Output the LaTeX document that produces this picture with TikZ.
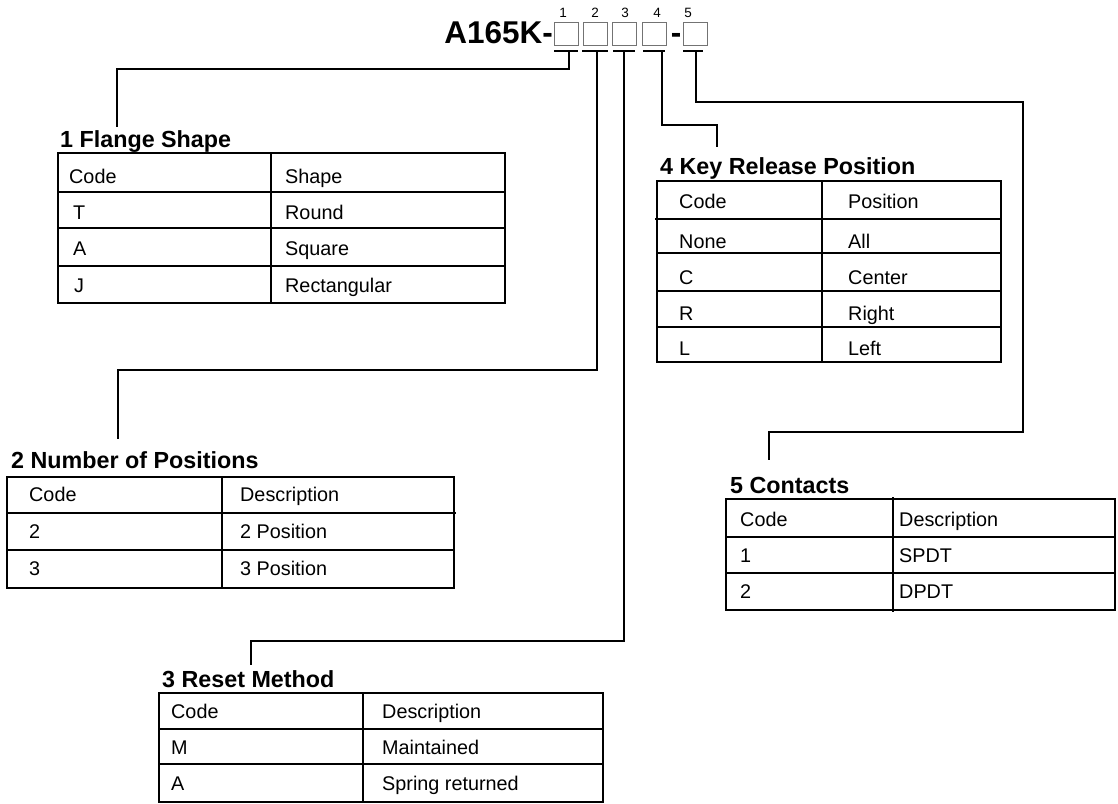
\documentclass[tikz,border=0pt]{standalone}
\usepackage{fontspec}
\setmainfont{Liberation Sans}
\begin{document}
\begin{tikzpicture}[x=1pt,y=-1pt,
  conn/.style={line width=2pt,line join=miter},
  tbl/.style={line width=2.3pt},
  tline/.style={line width=1.9pt},
  uline/.style={line width=1.6pt},
  cell/.style={anchor=base west,inner sep=0pt,font=\fontsize{19.8}{23}\selectfont},
  ttl/.style={anchor=base west,inner sep=0pt,font=\bfseries\fontsize{23.3}{27}\selectfont},
  codebox/.style={draw=black!55,line width=1pt,minimum width=24pt,minimum height=23pt,inner sep=0pt},
  num/.style={inner sep=0pt,font=\fontsize{13.5}{15}\selectfont}]
\useasboundingbox (0,0) rectangle (1118,803);
\fill[white] (0,0) rectangle (1118,803);

% model code
\node[anchor=base east,inner sep=0pt,font=\bfseries\fontsize{31.5}{36}\selectfont] (model) at (553,43) {A165K-};
\node[codebox] (b1) at (566.5,33.5) {};
\node[codebox] (b2) at (595,33.5) {};
\node[codebox] (b3) at (624.5,33.5) {};
\node[codebox] (b4) at (654.5,33.5) {};
\node[anchor=base,inner sep=0pt,font=\bfseries\fontsize{31.5}{36}\selectfont] (dash) at (676,43) {-};
\node[codebox] (b5) at (695,33.5) {};
\node[num] (n1) at (563,12.5) {1};
\node[num] (n2) at (595,12.5) {2};
\node[num] (n3) at (625,12.5) {3};
\node[num] (n4) at (657,12.5) {4};
\node[num] (n5) at (688,12.5) {5};

% underlines
\draw[uline] (554,51) -- (578,51);
\draw[uline] (582,51) -- (608,51);
\draw[uline] (613,51) -- (635,51);
\draw[uline] (643,51) -- (665,51);
\draw[uline] (683,51) -- (703,51);

% connector coordinates
\coordinate (c1) at (569,51);   \coordinate (k1) at (117,69);  \coordinate (e1) at (117,127);
\coordinate (c2) at (596.5,51); \coordinate (k2) at (118,370); \coordinate (e2) at (118,439);
\coordinate (c3) at (624,51);   \coordinate (k3) at (251,641); \coordinate (e3) at (251,665);
\coordinate (c4) at (662,51);   \coordinate (k4) at (717,125); \coordinate (e4) at (717,147);
\coordinate (c5) at (696,51);   \coordinate (k5) at (1023,102); \coordinate (m5) at (769,432); \coordinate (e5) at (769,460);

\draw[conn] (c1) |- (k1) -- (e1);
\draw[conn] (c2) |- (k2) -- (e2);
\draw[conn] (c3) |- (k3) -- (e3);
\draw[conn] (c4) |- (k4) -- (e4);
\draw[conn] (c5) |- (k5) |- (m5) -- (e5);

% ---------- Table 1 ----------
\node[ttl] (t1) at (60,147) {1 Flange Shape};
\draw[tbl] (58,153) rectangle (505,303);
\draw[tline] (58,192) -- (505,192) (58,228) -- (505,228) (58,266) -- (505,266);
\draw[tline] (271,153) -- (271,303);
\node[cell] (t1c0) at (69,183) {Code};
\node[cell] (t1d0) at (285,183) {Shape};
\node[cell] (t1c1) at (73,219) {T};
\node[cell] (t1d1) at (285,219) {Round};
\node[cell] (t1c2) at (73,255) {A};
\node[cell] (t1d2) at (285,255) {Square};
\node[cell] (t1c3) at (74,292) {J};
\node[cell] (t1d3) at (285,292) {Rectangular};

% ---------- Table 2 ----------
\node[ttl] (t2) at (11,468) {2 Number of Positions};
\draw[tbl] (7,477) rectangle (454,588);
\draw[tline] (7,513) -- (456,513) (7,550) -- (454,550);
\draw[tline] (222,477) -- (222,588);
\node[cell] (t2c0) at (29,501) {Code};
\node[cell] (t2d0) at (240,501) {Description};
\node[cell] (t2c1) at (29,538) {2};
\node[cell] (t2d1) at (240,538) {2 Position};
\node[cell] (t2c2) at (29,575) {3};
\node[cell] (t2d2) at (240,575) {3 Position};

% ---------- Table 3 ----------
\node[ttl] (t3) at (162,687) {3 Reset Method};
\draw[tbl] (159,693) rectangle (603,802);
\draw[tline] (159,729) -- (603,729) (159,764) -- (603,764);
\draw[tline] (363,693) -- (363,802);
\node[cell] (t3c0) at (171,718) {Code};
\node[cell] (t3d0) at (382,718) {Description};
\node[cell] (t3c1) at (171,754) {M};
\node[cell] (t3d1) at (382,754) {Maintained};
\node[cell] (t3c2) at (171,790) {A};
\node[cell] (t3d2) at (382,790) {Spring returned};

% ---------- Table 4 ----------
\node[ttl] (t4) at (660,174) {4 Key Release Position};
\draw[tbl] (657,181) rectangle (1001,362);
\draw[tline] (655,219) -- (1001,219) (657,253) -- (1001,253) (657,291) -- (1001,291) (657,327) -- (1001,327);
\draw[tline] (822,181) -- (822,362);
\node[cell] (t4c0) at (679,208) {Code};
\node[cell] (t4d0) at (848,208) {Position};
\node[cell] (t4c1) at (679,248) {None};
\node[cell] (t4d1) at (848,248) {All};
\node[cell] (t4c2) at (679,284) {C};
\node[cell] (t4d2) at (848,284) {Center};
\node[cell] (t4c3) at (679,320) {R};
\node[cell] (t4d3) at (848,320) {Right};
\node[cell] (t4c4) at (679,355) {L};
\node[cell] (t4d4) at (848,355) {Left};

% ---------- Table 5 ----------
\node[ttl] (t5) at (730,493) {5 Contacts};
\draw[tbl] (726,499) rectangle (1115,610);
\draw[tline] (726,537) -- (1115,537) (726,573) -- (1115,573);
\draw[tline] (893,497) -- (893,612);
\node[cell] (t5c0) at (740,526) {Code};
\node[cell] (t5d0) at (899,526) {Description};
\node[cell] (t5c1) at (740,562) {1};
\node[cell] (t5d1) at (899,562) {SPDT};
\node[cell] (t5c2) at (740,598) {2};
\node[cell] (t5d2) at (899,598) {DPDT};
\end{tikzpicture}
\end{document}
